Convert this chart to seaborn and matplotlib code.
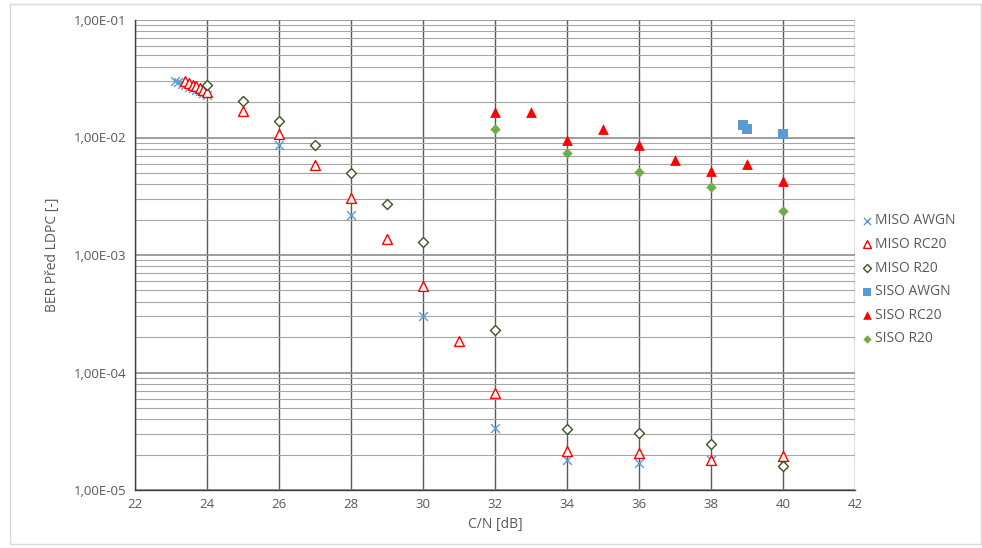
import numpy as np
import pandas as pd
import matplotlib
matplotlib.use("Agg")
import matplotlib.pyplot as plt
import matplotlib.ticker as mticker
import seaborn as sns

# --- data ---
miso_awgn_x = [23.1, 23.2, 23.3, 23.4, 23.5, 23.6, 23.7, 23.8, 23.9, 24.0, 26, 28, 30, 32, 34, 36, 38, 40]
miso_awgn_y = [3.05e-2, 2.95e-2, 2.85e-2, 2.78e-2, 2.7e-2, 2.62e-2, 2.55e-2, 2.48e-2, 2.4e-2, 2.3e-2,
               8.7e-3, 2.2e-3, 3.05e-4, 3.35e-5, 1.8e-5, 1.7e-5, 1.8e-5, 1.65e-5]

miso_rc20_x = [23.4, 23.5, 23.6, 23.7, 23.8, 23.9, 24.0, 25, 26, 27, 28, 29, 30, 31, 32, 34, 36, 38, 40]
miso_rc20_y = [3.0e-2, 2.9e-2, 2.8e-2, 2.72e-2, 2.62e-2, 2.52e-2, 2.42e-2, 1.68e-2, 1.07e-2, 5.85e-3,
               3.05e-3, 1.38e-3, 5.4e-4, 1.87e-4, 6.7e-5, 2.15e-5, 2.05e-5, 1.8e-5, 1.95e-5]

miso_r20_x = [24, 25, 26, 27, 28, 29, 30, 32, 34, 36, 38, 40]
miso_r20_y = [2.8e-2, 2.05e-2, 1.37e-2, 8.6e-3, 5.0e-3, 2.7e-3, 1.3e-3, 2.28e-4, 3.3e-5, 3.05e-5, 2.46e-5, 1.6e-5]

siso_awgn_x = [38.9, 39.0, 40]
siso_awgn_y = [1.28e-2, 1.18e-2, 1.08e-2]

siso_rc20_x = [32, 33, 34, 35, 36, 37, 38, 39, 40]
siso_rc20_y = [1.66e-2, 1.66e-2, 9.6e-3, 1.17e-2, 8.7e-3, 6.4e-3, 5.2e-3, 6.0e-3, 4.3e-3]

siso_r20_x = [32, 34, 36, 38, 40]
siso_r20_y = [1.17e-2, 7.4e-3, 5.1e-3, 3.8e-3, 2.38e-3]

series_names = ["MISO AWGN", "MISO RC20", "MISO R20", "SISO AWGN", "SISO RC20", "SISO R20"]
x_ticks = list(range(22, 43, 2))

frames = []
for name, xs, ys in zip(series_names,
                        [miso_awgn_x, miso_rc20_x, miso_r20_x, siso_awgn_x, siso_rc20_x, siso_r20_x],
                        [miso_awgn_y, miso_rc20_y, miso_r20_y, siso_awgn_y, siso_rc20_y, siso_r20_y]):
    frames.append(pd.DataFrame({"cn": xs, "ber": ys, "serie": name}))
df = pd.concat(frames, ignore_index=True)

# marker style per series (Excel look)
styles = {
    "MISO AWGN": dict(marker="x", color="#5b9bd5", s=40, linewidth=1.0),
    "MISO RC20": dict(marker="^", facecolor="white", edgecolor="#ff0000", s=50, linewidth=1.0),
    "MISO R20": dict(marker="D", facecolor="white", edgecolor="#375623", s=26, linewidth=1.0),
    "SISO AWGN": dict(marker="s", color="#5b9bd5", s=55, linewidth=0),
    "SISO RC20": dict(marker="^", color="#ff0000", s=60, linewidth=0),
    "SISO R20": dict(marker="D", color="#70ad47", s=28, linewidth=0),
}

sns.set_style("white")
plt.rcParams["font.family"] = ["Open Sans", "DejaVu Sans"]

fig = plt.figure(figsize=(9.82, 5.48), dpi=100)
ax = fig.add_axes([135 / 982, 1 - 490 / 548, 720 / 982, 470 / 548])

for name in series_names:
    sub = df[df["serie"] == name]
    sns.scatterplot(data=sub, x="cn", y="ber", ax=ax, label=name, zorder=3, **styles[name])

ax.set_yscale("log")
ax.set_ylim(1e-5, 1e-1)
ax.set_xlim(22, 42)
ax.set_xticks(x_ticks)
ax.yaxis.set_major_locator(mticker.LogLocator(base=10, numticks=10))
ax.yaxis.set_minor_locator(mticker.LogLocator(base=10, subs=np.arange(2, 10), numticks=10))
ax.yaxis.set_minor_formatter(mticker.NullFormatter())


def fmt_sci(v, pos):
    exp = int(np.round(np.log10(v)))
    sign = "-" if exp < 0 else "+"
    return f"1,00E{sign}{abs(exp):02d}"


ax.yaxis.set_major_formatter(mticker.FuncFormatter(fmt_sci))

ax.grid(which="major", axis="x", color="#595959", linewidth=1.0)
ax.grid(which="major", axis="y", color="#8c8c8c", linewidth=1.2)
ax.grid(which="minor", axis="y", color="#a6a6a6", linewidth=0.8)
ax.set_axisbelow(True)
ax.tick_params(axis="both", which="both", length=0, colors="#595959", labelsize=9.5, pad=6)

for side in ["top", "right"]:
    ax.spines[side].set_visible(False)
for side in ["left", "bottom"]:
    ax.spines[side].set_color("#404040")
    ax.spines[side].set_linewidth(1.0)

ax.set_xlabel("C/N [dB]", color="#595959", fontsize=10, labelpad=4)
ax.set_ylabel("BER Před LDPC [-]", color="#595959", fontsize=10, labelpad=10)

leg = ax.legend(loc="center left", bbox_to_anchor=(0.995, 0.447), frameon=False, markerscale=0.8,
                fontsize=10, handletextpad=0.0, labelspacing=0.62, borderpad=0, handlelength=1.2)
for t in leg.get_texts():
    t.set_color("#595959")

# light chart-area border like the Excel export
fig.patches.append(plt.Rectangle((10 / 982, 4 / 548), 971 / 982, 540 / 548, transform=fig.transFigure,
                                 fill=False, edgecolor="#d9d9d9", linewidth=1.0))

fig.savefig("out.png", dpi=100)
